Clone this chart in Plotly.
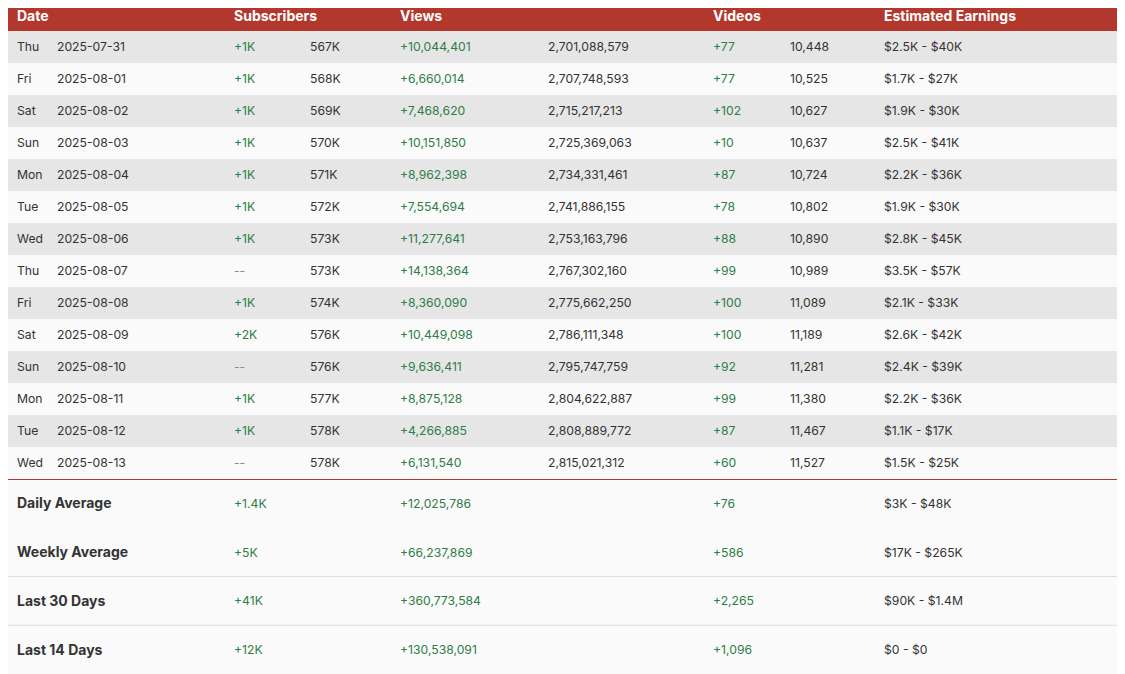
import plotly.graph_objects as go

days = ["Thu", "Fri", "Sat", "Sun", "Mon", "Tue", "Wed",
        "Thu", "Fri", "Sat", "Sun", "Mon", "Tue", "Wed"]
dates = ["2025-07-31", "2025-08-01", "2025-08-02", "2025-08-03", "2025-08-04",
         "2025-08-05", "2025-08-06", "2025-08-07", "2025-08-08", "2025-08-09",
         "2025-08-10", "2025-08-11", "2025-08-12", "2025-08-13"]
sub_delta = ["+1K", "+1K", "+1K", "+1K", "+1K", "+1K", "+1K",
             "--", "+1K", "+2K", "--", "+1K", "+1K", "--"]
sub_total = ["567K", "568K", "569K", "570K", "571K", "572K", "573K",
             "573K", "574K", "576K", "576K", "577K", "578K", "578K"]
view_delta = ["+10,044,401", "+6,660,014", "+7,468,620", "+10,151,850",
              "+8,962,398", "+7,554,694", "+11,277,641", "+14,138,364",
              "+8,360,090", "+10,449,098", "+9,636,411", "+8,875,128",
              "+4,266,885", "+6,131,540"]
view_total = ["2,701,088,579", "2,707,748,593", "2,715,217,213", "2,725,369,063",
              "2,734,331,461", "2,741,886,155", "2,753,163,796", "2,767,302,160",
              "2,775,662,250", "2,786,111,348", "2,795,747,759", "2,804,622,887",
              "2,808,889,772", "2,815,021,312"]
video_delta = ["+77", "+77", "+102", "+10", "+87", "+78", "+88",
               "+99", "+100", "+100", "+92", "+99", "+87", "+60"]
video_total = ["10,448", "10,525", "10,627", "10,637", "10,724", "10,802", "10,890",
               "10,989", "11,089", "11,189", "11,281", "11,380", "11,467", "11,527"]
earnings = ["$2.5K - $40K", "$1.7K - $27K", "$1.9K - $30K", "$2.5K - $41K",
            "$2.2K - $36K", "$1.9K - $30K", "$2.8K - $45K", "$3.5K - $57K",
            "$2.1K - $33K", "$2.6K - $42K", "$2.4K - $39K", "$2.2K - $36K",
            "$1.1K - $17K", "$1.5K - $25K"]

headers = ["Date", "Subscribers", "Views", "Videos", "Estimated Earnings"]

summary_labels = ["Daily Average", "Weekly Average", "Last 30 Days", "Last 14 Days"]
summary_subs = ["+1.4K", "+5K", "+41K", "+12K"]
summary_views = ["+12,025,786", "+66,237,869", "+360,773,584", "+130,538,091"]
summary_videos = ["+76", "+586", "+2,265", "+1,096"]
summary_earnings = ["$3K - $48K", "$17K - $265K", "$90K - $1.4M", "$0 - $0"]

# ---- layout constants (in page pixels) ----
W, H = 1125, 674
PAGE_PAD = 8  # browser body margin around the plot div
TABLE_RIGHT = 1118
HEADER_H = 31
ROW_H = 32
SUMMARY_H = (H - HEADER_H - ROW_H * len(dates)) / len(summary_labels)

RED = "#b2382e"
GREEN = "#2e7d46"
TEXT = "#333333"
MUTED = "#8c8c8c"
STRIPE = "#e6e6e6"
LIGHT = "#fafafa"
FONT = "Inter"
CELL_SIZE = 12.2

header_x = [17, 234, 400, 713, 884]
col_x = {"day": 17, "date": 57, "sub_d": 234, "sub_t": 310, "view_d": 400,
         "view_t": 548, "vid_d": 713, "vid_t": 790, "earn": 884}

row_y = [HEADER_H + ROW_H * (i + 0.5) + 1 for i in range(len(dates))]
table_bottom = HEADER_H + ROW_H * len(dates)
sum_y = [table_bottom + SUMMARY_H * (i + 0.5) + 1.5 for i in range(len(summary_labels))]


def delta_colors(values):
    return [GREEN if v.startswith("+") else MUTED for v in values]


fig = go.Figure()


def add_col(x, y, labels, color, size=CELL_SIZE, weight=400):
    fig.add_trace(go.Scatter(
        x=[x] * len(labels), y=y, mode="text", text=labels,
        textposition="middle right",
        textfont=dict(family=FONT, size=size, color=color, weight=weight),
        hoverinfo="skip", showlegend=False, cliponaxis=False,
    ))


# header (nudged down a little so it stays inside the plot div)
fig.add_trace(go.Scatter(
    x=header_x, y=[HEADER_H / 2 + 1.5] * len(headers), mode="text", text=headers,
    textposition="middle right",
    textfont=dict(family=FONT, size=14, color="white", weight=700),
    hoverinfo="skip", showlegend=False, cliponaxis=False,
))

# daily rows
add_col(col_x["day"], row_y, days, TEXT)
add_col(col_x["date"], row_y, dates, TEXT)
add_col(col_x["sub_d"], row_y, sub_delta, delta_colors(sub_delta))
add_col(col_x["sub_t"], row_y, sub_total, TEXT)
add_col(col_x["view_d"], row_y, view_delta, delta_colors(view_delta))
add_col(col_x["view_t"], row_y, view_total, TEXT)
add_col(col_x["vid_d"], row_y, video_delta, delta_colors(video_delta))
add_col(col_x["vid_t"], row_y, video_total, TEXT)
add_col(col_x["earn"], row_y, earnings, TEXT)

# summary rows
add_col(col_x["day"], sum_y, summary_labels, TEXT, size=14, weight=700)
add_col(col_x["sub_d"], sum_y, summary_subs, GREEN)
add_col(col_x["view_d"], sum_y, summary_views, GREEN)
add_col(col_x["vid_d"], sum_y, summary_videos, GREEN)
add_col(col_x["earn"], sum_y, summary_earnings, TEXT)

# backgrounds and rules
shapes = [
    dict(type="rect", x0=0, x1=TABLE_RIGHT, y0=0, y1=H, fillcolor=LIGHT,
         line_width=0, layer="below"),
    dict(type="rect", x0=0, x1=TABLE_RIGHT, y0=0, y1=HEADER_H, fillcolor=RED,
         line_width=0, layer="below"),
]
for i in range(0, len(dates), 2):
    shapes.append(dict(type="rect", x0=0, x1=TABLE_RIGHT,
                       y0=HEADER_H + ROW_H * i, y1=HEADER_H + ROW_H * (i + 1),
                       fillcolor=STRIPE, line_width=0, layer="below"))
shapes.append(dict(type="line", x0=0, x1=TABLE_RIGHT, y0=table_bottom + 0.5,
                   y1=table_bottom + 0.5, line=dict(color=RED, width=1.2)))
for i in (2, 3):
    yy = table_bottom + SUMMARY_H * i
    shapes.append(dict(type="line", x0=0, x1=TABLE_RIGHT, y0=yy, y1=yy,
                       line=dict(color="#dddddd", width=1)))

# the plot div sits PAGE_PAD px into the page, so map axes to page pixels
fig.update_layout(
    width=W - PAGE_PAD, height=H - PAGE_PAD,
    margin=dict(l=0, r=0, t=0, b=0),
    paper_bgcolor="#e2e2e2", plot_bgcolor="#e2e2e2",
    xaxis=dict(range=[PAGE_PAD, W], visible=False, fixedrange=True),
    yaxis=dict(range=[H, PAGE_PAD], visible=False, fixedrange=True),
    shapes=shapes,
    font=dict(family=FONT),
)

fig.write_html("out.html")
